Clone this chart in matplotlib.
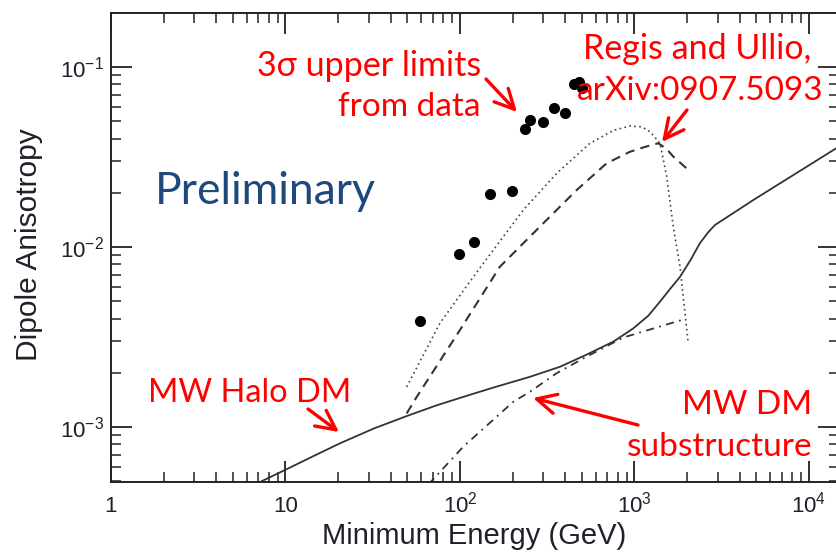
import numpy as np
import matplotlib
matplotlib.use("Agg")
import matplotlib.pyplot as plt
from matplotlib.patches import FancyArrowPatch
from matplotlib.ticker import FixedLocator, LogLocator, FixedFormatter, NullFormatter

plt.rcParams['font.family'] = ['Liberation Sans', 'DejaVu Sans']
plt.rcParams['mathtext.fontset'] = 'custom'
plt.rcParams['mathtext.rm'] = 'Liberation Sans'
plt.rcParams['mathtext.it'] = 'Liberation Sans'

# 3-sigma upper limits on the dipole anisotropy from data
data_E = [59.0, 98.7, 119.9, 149.2, 199.5, 236.8, 250.8, 297.6, 345.6, 399.7, 451.9, 480.8, 498.0]
data_A = [0.00388, 0.00914, 0.01069, 0.01977, 0.02048, 0.0453, 0.0506, 0.0497, 0.0590, 0.0557,
          0.0802, 0.0828, 0.0762]

# MW halo dark matter (solid)
halo_E = [7.0, 9.94, 14.5, 20.5, 32, 49.5, 72, 104.4, 160, 251.8, 374, 530, 757, 984, 1200,
          1400, 1600, 1823, 2100, 2372, 2650, 2893, 4797, 14290, 16000]
halo_A = [4.9e-4, 5.77e-4, 6.9e-4, 8.11e-4, 9.8e-4, 1.15e-3, 1.31e-3, 1.47e-3, 1.67e-3,
          1.90e-3, 2.16e-3, 2.52e-3, 2.98e-3, 3.53e-3, 4.15e-3, 4.97e-3, 5.85e-3, 6.82e-3,
          8.5e-3, 0.0105, 0.0121, 0.01325, 0.01824, 0.0353, 0.0378]

# Regis & Ullio model curves (dotted and dashed)
ru1_E = [49.5, 76.8, 127.4, 230.7, 358, 556, 760, 942, 1100, 1227, 1400, 1530, 1668, 1823, 2033]
ru1_A = [1.67e-3, 3.78e-3, 7.45e-3, 0.01606, 0.02565, 0.0377, 0.0445, 0.0470, 0.0465, 0.0437,
         0.0377, 0.0246, 0.01297, 7.78e-3, 2.92e-3]
ru2_E = [49.5, 56.5, 100, 169.5, 287, 467, 693, 942, 1150, 1369, 1520, 1668, 2018]
ru2_A = [1.19e-3, 1.47e-3, 3.46e-3, 7.78e-3, 0.01297, 0.02075, 0.0292, 0.0338, 0.0360, 0.0377,
         0.0352, 0.0318, 0.0270]

# MW dark matter substructure (dash-dot)
sub_E = [66.0, 104.5, 202, 252, 358, 532, 862, 1946]
sub_A = [4.8e-4, 7.78e-4, 1.38e-3, 1.57e-3, 1.99e-3, 2.46e-3, 3.14e-3, 3.98e-3]

x_ticks = [1, 10, 100, 1000, 10000]
x_ticklabels = ['1', '10', r'$10^{2}$', r'$10^{3}$', r'$10^{4}$']
y_ticks = [1e-3, 1e-2, 1e-1]
y_ticklabels = [r'$10^{-3}$', r'$10^{-2}$', r'$10^{-1}$']

W, H = 836, 553
fig = plt.figure(figsize=(W / 100, H / 100), dpi=100)
ax = fig.add_axes([111 / W, 1 - 481.7 / H, (839 - 111) / W, (481.7 - 13) / H])
ax.set_xscale('log')
ax.set_yscale('log')
ax.set_xlim(1, 10 ** 4.172)
ax.set_ylim(10 ** -3.304, 10 ** -0.70)

lc = '#333333'
ax.plot(halo_E, halo_A, color=lc, lw=1.3)
ax.plot(ru1_E, ru1_A, color='#444444', lw=1.2, linestyle=(0, (1, 2.0)))
ax.plot(ru2_E, ru2_A, color=lc, lw=1.5, linestyle=(0, (4.5, 3)))
ax.plot(sub_E, sub_A, color=lc, lw=1.3, linestyle=(0, (4.5, 3, 1, 3)))
ax.plot(data_E, data_A, 'o', color='black', markersize=8, markeredgewidth=0)

ax.xaxis.set_major_locator(FixedLocator(x_ticks))
ax.xaxis.set_major_formatter(FixedFormatter(x_ticklabels))
ax.yaxis.set_major_locator(FixedLocator(y_ticks))
ax.yaxis.set_major_formatter(FixedFormatter(y_ticklabels))
ax.xaxis.set_minor_locator(LogLocator(base=10, subs=np.arange(2, 10), numticks=20))
ax.yaxis.set_minor_locator(LogLocator(base=10, subs=np.arange(2, 10), numticks=20))
ax.xaxis.set_minor_formatter(NullFormatter())
ax.yaxis.set_minor_formatter(NullFormatter())
ax.tick_params(which='both', direction='in', top=True, right=True, color='#222222',
               labelcolor='#20202a', labelsize=16)
ax.tick_params(which='major', length=15, width=1.3)
ax.tick_params(which='minor', length=7, width=1.1)
ax.tick_params(axis='y', which='major', pad=5)
ax.tick_params(axis='x', which='major', pad=22)
for lab in ax.get_xticklabels():
    lab.set_verticalalignment('baseline')
for s in ax.spines.values():
    s.set_linewidth(1.4)
    s.set_color('#222222')

fig.text(474 / W, 1 - 544 / H, 'Minimum Energy (GeV)', ha='center', va='baseline',
         fontsize=21, color='#20202a')
fig.text(29 / W, 1 - 245 / H, 'Dipole Anisotropy', ha='center', va='center',
         rotation=90, fontsize=21.5, color='#20202a')

red = '#ff0000'
tf = ['Lato', 'DejaVu Sans']
fs = 24
fig.text(481 / W, 1 - 66 / H, '3σ upper limits', ha='right', va='center', color=red,
         fontsize=24.5, family=tf)
fig.text(481 / W, 1 - 107 / H, 'from data', ha='right', va='center', color=red,
         fontsize=fs, family=tf)
fig.text(697 / W, 1 - 49 / H, 'Regis and Ullio,', ha='center', va='center', color=red,
         fontsize=24.5, family=tf)
fig.text(700 / W, 1 - 91 / H, 'arXiv:0907.5093', ha='center', va='center', color=red,
         fontsize=fs, family=tf)
fig.text(250 / W, 1 - 393 / H, 'MW Halo DM', ha='center', va='center', color=red,
         fontsize=23.5, family=tf)
fig.text(812 / W, 1 - 405 / H, 'MW DM', ha='right', va='center', color=red,
         fontsize=fs, family=tf)
fig.text(812 / W, 1 - 447 / H, 'substructure', ha='right', va='center', color=red,
         fontsize=fs, family=tf)
fig.text(265 / W, 1 - 192 / H, 'Preliminary', ha='center', va='center', color='#1f497d',
         fontsize=32, family=tf)

arrow = dict(arrowstyle='->,head_length=0.7,head_width=0.35', color=red, lw=2.4,
             shrinkA=0, shrinkB=0, mutation_scale=20, transform=fig.transFigure)
for (x0, y0), (x1, y1) in [((486, 79), (517, 112)), ((687, 110), (662, 142)),
                           ((308, 409), (339, 432)), ((638, 425), (533, 398))]:
    fig.add_artist(FancyArrowPatch((x0 / W, 1 - y0 / H), (x1 / W, 1 - y1 / H), **arrow))

fig.savefig('out.png', dpi=100)
